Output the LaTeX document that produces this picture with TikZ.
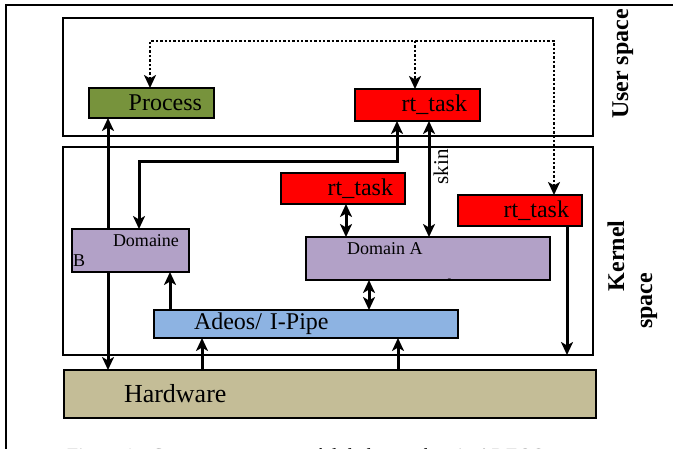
\documentclass[tikz,border=0pt]{standalone}
\usepackage{fontspec}
\setmainfont{Liberation Serif}
\usetikzlibrary{arrows.meta}
\definecolor{olivebox}{HTML}{77933C}
\definecolor{redbox}{HTML}{FF0000}
\definecolor{lavbox}{HTML}{B2A1C7}
\definecolor{bluebox}{HTML}{8DB3E2}
\definecolor{tanbox}{HTML}{C4BD97}
\tikzset{
  box/.style={draw, line width=2pt, anchor=north west, inner ysep=0pt, outer sep=0pt},
  bigtxt/.style={font=\fontsize{24}{28}\selectfont},
  smalltxt/.style={font=\fontsize{18}{20}\selectfont},
  sidelbl/.style={font=\fontsize{24}{28}\selectfont\bfseries, rotate=90, anchor=base},
  conn/.style={line width=3pt},
  tip/.tip={Stealth[length=13pt,width=12pt,inset=3.5pt]},
  onearr/.style={conn, -tip},
  dblarr/.style={conn, tip-tip},
  dotline/.style={line width=2.4pt, dash pattern=on 2.4pt off 2pt},
}
\begin{document}
\begin{tikzpicture}[x=1pt,y=-1pt]
\useasboundingbox (0,0) rectangle (673,449);
% outer frame
\draw[line width=2pt] (6,449) -- (6,5) -- (673,5);
% space boxes
\node[box, line width=2.4pt, minimum width=530pt, minimum height=118pt] (ubox) at (63,18) {};
\node[box, line width=2.4pt, minimum width=530pt, minimum height=208pt] (kbox) at (63,147) {};
% side labels
\node[sidelbl] (ulbl) at (628,64) {User space};
\node[sidelbl] (klbl1) at (624,256) {Kernel};
\node[sidelbl] (klbl2) at (652,301) {space};
% boxes
\node[box, fill=olivebox, bigtxt, minimum width=125pt, minimum height=30pt, inner xsep=12pt, text width=101pt, align=right] (proc) at (89,88) {Process};
\node[box, fill=redbox, bigtxt, minimum width=125pt, minimum height=32pt, inner xsep=13pt, text width=99pt, align=right] (rtu) at (355,89) {rt\_task};
\node[box, fill=redbox, bigtxt, minimum width=124pt, minimum height=31pt, inner xsep=12pt, text width=100pt, align=right] (rtk1) at (281,173) {rt\_task};
\node[box, fill=redbox, bigtxt, minimum width=124pt, minimum height=31pt, inner xsep=13pt, text width=98pt, align=right] (rtk2) at (458,195) {rt\_task};
\node[box, fill=lavbox, smalltxt, minimum width=117pt, minimum height=43pt, inner xsep=1pt, text width=115pt, align=left] (domB) at (72,229) {\hspace*{40pt}Domaine\\B};
\node[box, fill=lavbox, minimum width=244pt, minimum height=43pt] (domA) at (306,237) {};
\node[smalltxt, anchor=base west, inner sep=0pt] (domAlbl) at (347,255) {Domain A};
\begin{scope}
\clip (domA.north west) rectangle (domA.south east);
\node[smalltxt, anchor=base west, inner sep=0pt] (domAsub) at (347,292) {Xenomai Nucleus};
\end{scope}
\draw[line width=2pt] (domA.north west) rectangle (domA.south east);
\node[box, fill=bluebox, bigtxt, minimum width=304pt, minimum height=28pt, inner xsep=40pt, text width=224pt, align=left] (adeos) at (154,310) {Adeos/ I-Pipe};
\node[box, fill=tanbox, font=\fontsize{26}{30}\selectfont, minimum width=532pt, minimum height=48pt, inner xsep=60pt, text width=412pt, align=left] (hw) at (64,370) {Hardware};
% caption (cut by the page edge)
\node[font=\fontsize{20}{24}\selectfont, anchor=base west, inner sep=0pt] (cap) at (67,462) {Figure 1 - Composants temps réel de la couche via ADEOS};
% x positions of vertical connectors
\coordinate (xa) at (108,0);
\coordinate (xs) at (429,0);
\coordinate (xk) at (346,0);
\coordinate (xd) at (369,0);
\coordinate (xb2) at (170,0);
\coordinate (xh1) at (202,0);
\coordinate (xh2) at (398,0);
\coordinate (xr) at (567,0);
\coordinate (b1) at (139,162);
\coordinate (b2) at (397,162);
\coordinate (d1) at (150,41);
\coordinate (d2) at (415,41);
\coordinate (d3) at (554,41);
% connectors
\draw[onearr] (domB.north -| xa) -- (proc.south -| xa);
\draw[onearr] (domB.south -| xa) -- (hw.north -| xa);
\draw[dblarr] (domB.north -| b1) -- (b1) -- (b2) -- (rtu.south -| b2);
\draw[dblarr] (rtu.south -| xs) -- (domA.north -| xs);
\node[font=\fontsize{21}{24}\selectfont, rotate=90, anchor=base] (skin) at (448,167) {skin};
\draw[dblarr] (rtk1.south -| xk) -- (domA.north -| xk);
\draw[dblarr] (domA.south -| xd) -- (adeos.north -| xd);
\draw[onearr] (adeos.north -| xb2) -- (domB.south -| xb2);
\draw[onearr] (hw.north -| xh1) -- (adeos.south -| xh1);
\draw[onearr] (hw.north -| xh2) -- (adeos.south -| xh2);
\draw[onearr] (rtk2.south -| xr) -- (kbox.south -| xr);
\draw[dotline, tip-tip] (proc.north -| d1) -- (d1) -- (d3) -- (rtk2.north -| d3);
\draw[dotline, -tip] (d2) -- (rtu.north -| d2);
\end{tikzpicture}
\end{document}
